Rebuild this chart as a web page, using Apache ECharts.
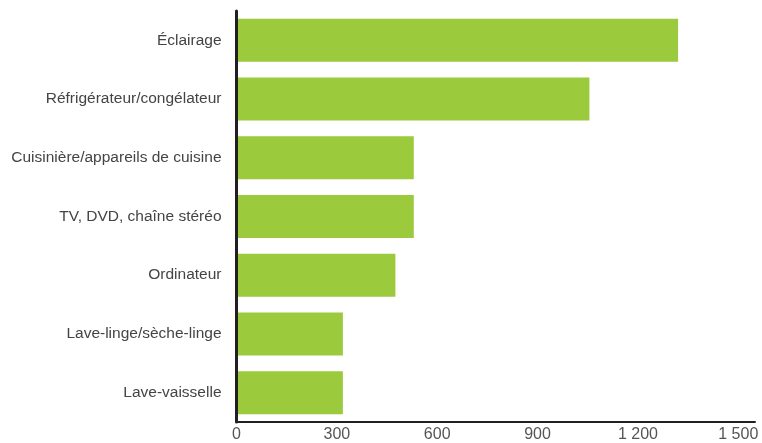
<!DOCTYPE html>
<html>
<head>
<meta charset="utf-8">
<script src="https://cdn.jsdelivr.net/npm/echarts@6/dist/echarts.min.js"></script>
<style>
  html, body { margin: 0; padding: 0; background: #fff; }
  #chart { width: 762px; height: 443px; }
</style>
</head>
<body>
<div id="chart"></div>
<script>
// consommation par usage
const categories = [
  'Éclairage',
  'Réfrigérateur/congélateur',
  'Cuisinière/appareils de cuisine',
  'TV, DVD, chaîne stéréo',
  'Ordinateur',
  'Lave-linge/sèche-linge',
  'Lave-vaisselle'
];
const values = [1320, 1055, 530, 530, 475, 318, 318];
const tickStep = 300;

let chart = echarts.init(document.getElementById('chart'));

let option = {
  animation: false,
  textStyle: { fontFamily: 'Liberation Sans' },
  grid: { left: 236.5, right: 7, top: 11, bottom: 19, containLabel: false },
  xAxis: {
    type: 'value',
    min: 0,
    max: 1550,
    interval: tickStep,
    z: 5,
    axisLine: { show: true, lineStyle: { color: '#231f20', width: 2 } },
    axisTick: { show: false },
    splitLine: { show: false },
    axisLabel: {
      showMaxLabel: false,
      margin: 5,
      fontSize: 16,
      color: '#555',
      formatter: v => String(v).replace(/\B(?=(\d{3})+(?!\d))/g, ' ')
    }
  },
  yAxis: {
    type: 'category',
    data: categories,
    inverse: true,
    z: 5,
    axisLine: { show: true, lineStyle: { color: '#231f20', width: 3 } },
    axisTick: { show: false },
    axisLabel: { margin: 15, fontSize: 15.5, color: '#444' }
  },
  series: [
    {
      type: 'bar',
      data: values,
      barWidth: 43,
      itemStyle: { color: '#9bca3d' }
    }
  ]
};

chart.setOption(option);
</script>
</body>
</html>
